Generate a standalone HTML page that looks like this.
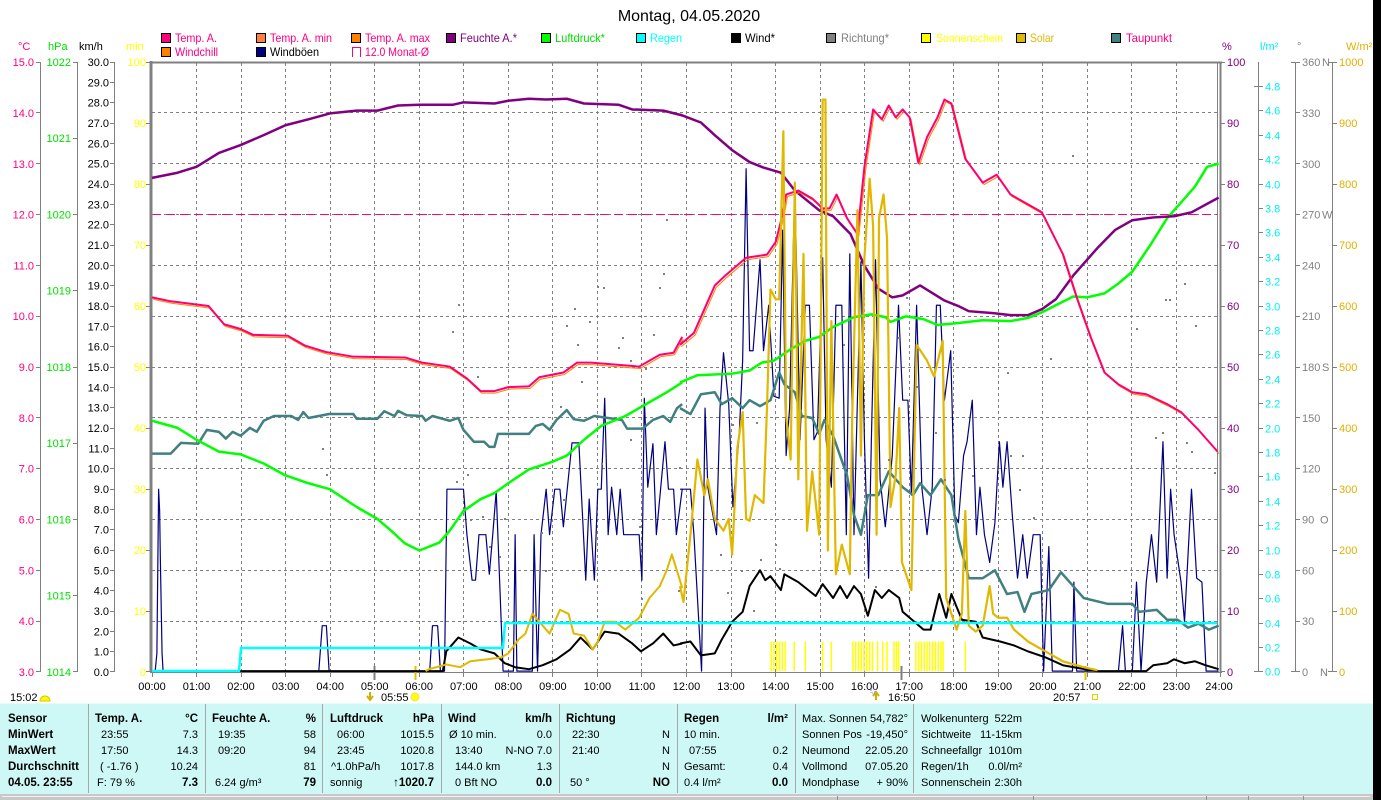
<!DOCTYPE html>
<html><head><meta charset="utf-8"><style>body{margin:0;background:#fff}svg{display:block}</style></head><body>
<svg width="1381" height="800" viewBox="0 0 1381 800" xmlns="http://www.w3.org/2000/svg" xmlns:xlink="http://www.w3.org/1999/xlink" font-family="'Liberation Sans', Arial, sans-serif" font-size="11">
<rect width="1381" height="800" fill="#fff"/>
<defs>
<polyline id="t8" fill="none" vector-effect="non-scaling-stroke" points="6,600 60,610 170,622 215,668 263,680 300,695 400,697 450,722 510,738 590,750 740,752 790,765 870,775 920,805 960,837 1000,837 1040,827 1100,825 1130,802 1200,790 1240,765 1280,765 1420,775 1480,745 1520,740 1545,700"/>
<polyline id="t9" fill="none" vector-effect="non-scaling-stroke" points="0,720 40,690 70,630 100,570 130,545 150,530 190,500 250,492 275,460 295,390 305,340 340,330 380,350 410,375 430,375 450,340 480,400 510,440 530,270 555,125 580,150 600,115 620,145 640,125 660,145 685,260 710,195 740,145 760,100 780,110 820,250 870,310 910,290 950,340 1000,365 1040,385 1060,420 1100,490 1140,600 1180,700 1220,790 1260,820 1300,840 1340,845 1400,870 1440,890 1490,935 1545,990"/>
</defs>

<!-- Title -->
<text x="689" y="21" font-size="16" text-anchor="middle" fill="#000">Montag, 04.05.2020</text>

<!-- Legend -->
<g stroke="#000" stroke-width="1">
<rect x="161.5" y="33.5" width="9" height="9" fill="#ff0080"/>
<rect x="256.5" y="33.5" width="9" height="9" fill="#ff8040"/>
<rect x="351.5" y="33.5" width="9" height="9" fill="#ff8000"/>
<rect x="446.5" y="33.5" width="9" height="9" fill="#800080"/>
<rect x="541.5" y="33.5" width="9" height="9" fill="#00ff00"/>
<rect x="636.5" y="33.5" width="9" height="9" fill="#00ffff"/>
<rect x="731.5" y="33.5" width="9" height="9" fill="#000"/>
<rect x="826.5" y="33.5" width="9" height="9" fill="#808080"/>
<rect x="921.5" y="33.5" width="9" height="9" fill="#ffff00"/>
<rect x="1016.5" y="33.5" width="9" height="9" fill="#e0b800"/>
<rect x="1111.5" y="33.5" width="9" height="9" fill="#408080"/>
<rect x="161.5" y="47.5" width="9" height="9" fill="#ff8000"/>
<rect x="256.5" y="47.5" width="9" height="9" fill="#000080"/>
</g>
<path d="M352.5,57 V47.5 H360.5 V57" fill="none" stroke="#ff0080"/>
<g font-size="12">
<text x="175" y="42" fill="#ff0080" textLength="42" lengthAdjust="spacingAndGlyphs">Temp. A.</text>
<text x="270" y="42" fill="#ff0080" textLength="62" lengthAdjust="spacingAndGlyphs">Temp. A. min</text>
<text x="365" y="42" fill="#ff0080" textLength="65" lengthAdjust="spacingAndGlyphs">Temp. A. max</text>
<text x="460" y="42" fill="#800080" textLength="57" lengthAdjust="spacingAndGlyphs">Feuchte A.*</text>
<text x="555" y="42" fill="#00e000" textLength="50" lengthAdjust="spacingAndGlyphs">Luftdruck*</text>
<text x="650" y="42" fill="#00ffff" textLength="32" lengthAdjust="spacingAndGlyphs">Regen</text>
<text x="745" y="42" fill="#000" textLength="30" lengthAdjust="spacingAndGlyphs">Wind*</text>
<text x="841" y="42" fill="#808080" textLength="48" lengthAdjust="spacingAndGlyphs">Richtung*</text>
<text x="936" y="42" fill="#ffff00" textLength="67" lengthAdjust="spacingAndGlyphs">Sonnenschein</text>
<text x="1030" y="42" fill="#e0b800" textLength="24" lengthAdjust="spacingAndGlyphs">Solar</text>
<text x="1126" y="42" fill="#ff0080" textLength="46" lengthAdjust="spacingAndGlyphs">Taupunkt</text>
<text x="175" y="56" fill="#ff0080" textLength="43" lengthAdjust="spacingAndGlyphs">Windchill</text>
<text x="270" y="56" fill="#000" textLength="49" lengthAdjust="spacingAndGlyphs">Windböen</text>
<text x="365" y="56" fill="#ff0080" textLength="64" lengthAdjust="spacingAndGlyphs">12.0 Monat-Ø</text>
</g>

<!-- unit labels -->
<text x="18" y="50" fill="#ff0080">°C</text>
<text x="48" y="50" fill="#00e000">hPa</text>
<text x="79" y="50" fill="#000">km/h</text>
<text x="126" y="50" fill="#ffff00">min</text>
<text x="1222" y="50" fill="#800080">%</text>
<text x="1260" y="50" fill="#00f0f0">l/m²</text>
<text x="1297" y="50" fill="#808080">°</text>
<text x="1346" y="50" fill="#e0b000">W/m²</text>

<!-- Grid -->
<path d="M152,112.5H1217M152,163.5H1217M152,265.5H1217M152,316.5H1217M152,367.5H1217M152,417.5H1217M152,468.5H1217M152,519.5H1217M152,570.5H1217M152,621.5H1217M152,214.5H1217" stroke="#808080" stroke-width="1" stroke-dasharray="3,3" fill="none"/>
<path d="M196.5,63V672M241.5,63V672M285.5,63V672M330.5,63V672M374.5,63V672M419.5,63V672M463.5,63V672M508.5,63V672M552.5,63V672M597.5,63V672M641.5,63V672M686.5,63V672M731.5,63V672M775.5,63V672M820.5,63V672M864.5,63V672M909.5,63V672M953.5,63V672M998.5,63V672M1042.5,63V672M1087.5,63V672M1131.5,63V672M1176.5,63V672" stroke="#808080" stroke-width="1" stroke-dasharray="3,3" fill="none"/>
<!-- Monat-Ø line -->
<path d="M152,214.5H1217" stroke="#ff0080" stroke-width="1" stroke-dasharray="9,5"/>

<!-- Frame -->
<path d="M151,61V672" stroke="#808080" stroke-width="3"/>
<path d="M150,62.5H1222" stroke="#808080" stroke-width="2"/>
<path d="M1217.5,62V672" stroke="#808080" stroke-width="1"/>
<path d="M1220.5,62V672" stroke="#808080" stroke-width="2"/>
<path d="M150,672.5H1222" stroke="#808080" stroke-width="1"/>
<path d="M152.5,672V677M196.5,672V677M241.5,672V677M285.5,672V677M330.5,672V677M374.5,672V677M419.5,672V677M463.5,672V677M508.5,672V677M552.5,672V677M597.5,672V677M641.5,672V677M686.5,672V677M731.5,672V677M775.5,672V677M820.5,672V677M864.5,672V677M909.5,672V677M953.5,672V677M998.5,672V677M1042.5,672V677M1087.5,672V677M1131.5,672V677M1176.5,672V677M1220.5,672V677" stroke="#808080"/>
<path d="M374.5,666V680M901.5,666V680" stroke="#808080" stroke-width="2"/>
<path d="M415.5,666V680M1085.5,666V680" stroke="#e0c000" stroke-width="2"/>

<!-- Left axes -->
<g stroke="#808080" fill="none" stroke-width="1">
<path d="M40.5,62V672M36,62.5H41M36,112.5H41M36,163.5H41M36,214.5H41M36,265.5H41M36,316.5H41M36,367.5H41M36,417.5H41M36,468.5H41M36,519.5H41M36,570.5H41M36,621.5H41M36,671.5H41"/>
<path d="M77.5,62V672M73,62.5H78M73,138.5H78M73,214.5H78M73,290.5H78M73,367.5H78M73,443.5H78M73,519.5H78M73,595.5H78M73,671.5H78"/>
<path d="M114.5,62V672M110,62.5H115M110,82.5H115M110,102.5H115M110,123.5H115M110,143.5H115M110,163.5H115M110,184.5H115M110,204.5H115M110,224.5H115M110,245.5H115M110,265.5H115M110,285.5H115M110,306.5H115M110,326.5H115M110,346.5H115M110,367.5H115M110,387.5H115M110,407.5H115M110,428.5H115M110,448.5H115M110,468.5H115M110,489.5H115M110,509.5H115M110,529.5H115M110,550.5H115M110,570.5H115M110,590.5H115M110,611.5H115M110,631.5H115M110,651.5H115M110,671.5H115"/>
<path d="M146,62.5H150M146,123.5H150M146,184.5H150M146,245.5H150M146,306.5H150M146,367.5H150M146,428.5H150M146,489.5H150M146,550.5H150M146,611.5H150M146,671.5H150"/>
<!-- right axes -->
<path d="M1221,62.5H1225M1221,123.5H1225M1221,184.5H1225M1221,245.5H1225M1221,306.5H1225M1221,367.5H1225M1221,428.5H1225M1221,489.5H1225M1221,550.5H1225M1221,611.5H1225M1221,671.5H1225"/>
<path d="M1258.5,62V672M1254,86.5H1263M1258.5,110.5H1263M1258.5,135.5H1263M1258.5,159.5H1263M1258.5,184.5H1263M1258.5,208.5H1263M1258.5,232.5H1263M1258.5,257.5H1263M1258.5,281.5H1263M1258.5,306.5H1263M1258.5,330.5H1263M1258.5,354.5H1263M1258.5,379.5H1263M1258.5,403.5H1263M1258.5,428.5H1263M1258.5,452.5H1263M1258.5,476.5H1263M1258.5,501.5H1263M1258.5,525.5H1263M1258.5,550.5H1263M1258.5,574.5H1263M1258.5,598.5H1263M1258.5,623.5H1263M1258.5,647.5H1263M1254,671.5H1263"/>
<path d="M1295.5,62V672M1291,62.5H1300M1295.5,112.5H1300M1295.5,163.5H1300M1295.5,214.5H1300M1295.5,265.5H1300M1295.5,316.5H1300M1295.5,367.5H1300M1295.5,417.5H1300M1295.5,468.5H1300M1295.5,519.5H1300M1295.5,570.5H1300M1295.5,621.5H1300M1291,671.5H1300"/>
<path d="M1332.5,62V672M1328,62.5H1337M1332.5,123.5H1337M1332.5,184.5H1337M1332.5,245.5H1337M1332.5,306.5H1337M1332.5,367.5H1337M1332.5,428.5H1337M1332.5,489.5H1337M1332.5,550.5H1337M1332.5,611.5H1337M1328,671.5H1337"/>
</g>

<g fill="#ff0080" text-anchor="end">
<text x="34" y="66">15.0</text><text x="34" y="117">14.0</text><text x="34" y="168">13.0</text><text x="34" y="218.5">12.0</text><text x="34" y="269.5">11.0</text><text x="34" y="320">10.0</text><text x="34" y="371">9.0</text><text x="34" y="422">8.0</text><text x="34" y="472.5">7.0</text><text x="34" y="523.5">6.0</text><text x="34" y="574.5">5.0</text><text x="34" y="625">4.0</text><text x="34" y="676">3.0</text>
</g>
<g fill="#00e000" text-anchor="end">
<text x="71" y="66">1022</text><text x="71" y="142">1021</text><text x="71" y="218.5">1020</text><text x="71" y="294.5">1019</text><text x="71" y="371">1018</text><text x="71" y="447">1017</text><text x="71" y="523.5">1016</text><text x="71" y="599.5">1015</text><text x="71" y="676">1014</text>
</g>
<g fill="#000" text-anchor="end">
<text x="109" y="66">30.0</text><text x="109" y="86.5">29.0</text><text x="109" y="106.5">28.0</text><text x="109" y="127">27.0</text><text x="109" y="147.5">26.0</text><text x="109" y="167.5">25.0</text><text x="109" y="188">24.0</text><text x="109" y="208.5">23.0</text><text x="109" y="228.5">22.0</text><text x="109" y="249">21.0</text><text x="109" y="269.5">20.0</text><text x="109" y="289.5">19.0</text><text x="109" y="310">18.0</text><text x="109" y="330.5">17.0</text><text x="109" y="350.5">16.0</text><text x="109" y="371">15.0</text><text x="109" y="391.5">14.0</text><text x="109" y="411.5">13.0</text><text x="109" y="432">12.0</text><text x="109" y="452.5">11.0</text><text x="109" y="472.5">10.0</text><text x="109" y="493">9.0</text><text x="109" y="513.5">8.0</text><text x="109" y="533.5">7.0</text><text x="109" y="554">6.0</text><text x="109" y="574.5">5.0</text><text x="109" y="594.5">4.0</text><text x="109" y="615">3.0</text><text x="109" y="635.5">2.0</text><text x="109" y="655.5">1.0</text><text x="109" y="676">0.0</text>
</g>
<g fill="#ffff00" text-anchor="end">
<text x="146" y="66">100</text><text x="146" y="127">90</text><text x="146" y="188">80</text><text x="146" y="249">70</text><text x="146" y="310">60</text><text x="146" y="371">50</text><text x="146" y="432">40</text><text x="146" y="493">30</text><text x="146" y="554">20</text><text x="146" y="615">10</text><text x="146" y="676">0</text>
</g>
<g fill="#800080">
<text x="1227" y="66">100</text><text x="1227" y="127">90</text><text x="1227" y="188">80</text><text x="1227" y="249">70</text><text x="1227" y="310">60</text><text x="1227" y="371">50</text><text x="1227" y="432">40</text><text x="1227" y="493">30</text><text x="1227" y="554">20</text><text x="1227" y="615">10</text><text x="1227" y="676">0</text>
</g>
<g fill="#00f0f0">
<text x="1265" y="90.5">4.8</text><text x="1265" y="114.5">4.6</text><text x="1265" y="139.5">4.4</text><text x="1265" y="163.5">4.2</text><text x="1265" y="188.5">4.0</text><text x="1265" y="212.5">3.8</text><text x="1265" y="236.5">3.6</text><text x="1265" y="261.5">3.4</text><text x="1265" y="285.5">3.2</text><text x="1265" y="310.5">3.0</text><text x="1265" y="334.5">2.8</text><text x="1265" y="358.5">2.6</text><text x="1265" y="383.5">2.4</text><text x="1265" y="407.5">2.2</text><text x="1265" y="432.5">2.0</text><text x="1265" y="456.5">1.8</text><text x="1265" y="480.5">1.6</text><text x="1265" y="505.5">1.4</text><text x="1265" y="529.5">1.2</text><text x="1265" y="554.5">1.0</text><text x="1265" y="578.5">0.8</text><text x="1265" y="602.5">0.6</text><text x="1265" y="627.5">0.4</text><text x="1265" y="651.5">0.2</text><text x="1265" y="675.5">0.0</text>
</g>
<g fill="#808080">
<text x="1302" y="66">360</text><text x="1302" y="117">330</text><text x="1302" y="168">300</text><text x="1302" y="218.5">270</text><text x="1302" y="269.5">240</text><text x="1302" y="320">210</text><text x="1302" y="371">180</text><text x="1302" y="422">150</text><text x="1302" y="472.5">120</text><text x="1302" y="523.5">90</text><text x="1302" y="574.5">60</text><text x="1302" y="625">30</text><text x="1302" y="676">0</text>
<text x="1322" y="66">N</text><text x="1322" y="218.5">W</text><text x="1322" y="371">S</text><text x="1320" y="523.5">O</text><text x="1320" y="676">N</text>
</g>
<g fill="#e0b000">
<text x="1339" y="66">1000</text><text x="1339" y="127">900</text><text x="1339" y="188">800</text><text x="1339" y="249">700</text><text x="1339" y="310">600</text><text x="1339" y="371">500</text><text x="1339" y="432">400</text><text x="1339" y="493">300</text><text x="1339" y="554">200</text><text x="1339" y="615">100</text><text x="1339" y="676">0</text>
</g>

<!-- X labels -->
<g fill="#000" text-anchor="middle">
<text x="152" y="690">00:00</text><text x="196.5" y="690">01:00</text><text x="241" y="690">02:00</text><text x="285.6" y="690">03:00</text><text x="330.2" y="690">04:00</text><text x="374.7" y="690">05:00</text><text x="419.2" y="690">06:00</text><text x="463.8" y="690">07:00</text><text x="508.3" y="690">08:00</text><text x="552.9" y="690">09:00</text><text x="597.4" y="690">10:00</text><text x="641.9" y="690">11:00</text><text x="686.5" y="690">12:00</text><text x="731" y="690">13:00</text><text x="775.6" y="690">14:00</text><text x="820.1" y="690">15:00</text><text x="864.6" y="690">16:00</text><text x="909.2" y="690">17:00</text><text x="953.7" y="690">18:00</text><text x="998.3" y="690">19:00</text><text x="1042.8" y="690">20:00</text><text x="1087.3" y="690">21:00</text><text x="1131.9" y="690">22:00</text><text x="1176.4" y="690">23:00</text><text x="1219" y="690">24:00</text>
</g>

<!-- Sun info row -->
<text x="10" y="701" fill="#000">15:02</text>
<path d="M40,701 A5,5 0 0 1 50,701 Z" fill="#ffff00" stroke="#e0c000"/>
<path d="M370,692 V699 M367,696 L370,700 L373,696" stroke="#d0b000" stroke-width="2" fill="none"/>
<text x="381" y="701" fill="#000">05:55</text>
<circle cx="415" cy="697" r="4" fill="#ffff00" stroke="#f0e060"/>
<path d="M876,700 V693 M873,696 L876,692 L879,696" stroke="#d0b000" stroke-width="2" fill="none"/>
<rect x="871" y="689" width="4" height="4" fill="none" stroke="#8080ff" stroke-dasharray="1,1"/>
<text x="888" y="701" fill="#000">16:50</text>
<text x="1053" y="701" fill="#000">20:57</text>
<rect x="1092.5" y="694.5" width="5" height="5" fill="none" stroke="#e0d000"/>

<!-- SERIES (zoom 8 coordinates) -->
<g transform="translate(150,60) scale(0.34447,0.39557)" fill="none" stroke-linejoin="round">
<polyline vector-effect="non-scaling-stroke" stroke="#000080" stroke-width="1.2" points="6,1545 15,1545 20,1500 25,1085 28,1140 30,1260 35,1500 38,1545 490,1545 500,1430 512,1430 520,1545 812,1545 820,1430 835,1430 843,1545 855,1545 862,1085 910,1085 920,1200 935,1315 945,1315 955,1200 975,1200 985,1300 995,1200 1005,1090 1025,1545 1055,1545 1060,1200 1065,1545 1110,1545 1115,1200 1125,1545 1135,1200 1150,1085 1160,1200 1175,1085 1190,1085 1200,1180 1225,968 1245,968 1265,1315 1275,1110 1290,1315 1300,1085 1310,1085 1320,855 1330,1200 1340,1080 1355,1200 1365,1085 1375,1200 1420,1200 1428,1315 1435,855 1445,1080 1460,970 1470,1200 1495,965 1505,1085 1520,1085 1528,1200 1545,1085"/>
<polyline vector-effect="non-scaling-stroke" stroke="#000" stroke-width="2" points="6,1545 850,1545 860,1495 895,1460 930,1475 960,1490 1000,1500 1030,1525 1060,1535 1100,1540 1140,1530 1180,1515 1220,1490 1250,1460 1285,1490 1320,1445 1360,1450 1400,1475 1425,1495 1460,1475 1490,1450 1520,1480 1545,1475"/>
<polyline vector-effect="non-scaling-stroke" stroke="#408080" stroke-width="2.5" points="6,995 60,995 90,968 140,970 165,935 200,940 220,957 240,940 263,950 290,930 310,940 330,912 360,900 410,900 430,910 445,890 460,905 520,895 590,895 600,907 660,907 680,888 710,900 720,887 745,898 790,900 800,912 820,900 870,912 895,905 910,935 940,965 970,965 985,978 1000,978 1010,945 1100,945 1120,925 1140,920 1160,935 1180,910 1210,885 1230,908 1260,912 1290,900 1370,910 1385,932 1430,932 1460,910 1490,900 1510,915 1530,880 1545,870"/>
<polyline vector-effect="non-scaling-stroke" stroke="#00ff00" stroke-width="2.5" points="6,912 80,930 135,960 200,990 263,997 330,1020 393,1050 460,1070 522,1085 600,1130 660,1160 700,1190 740,1222 782,1240 840,1220 870,1190 910,1140 960,1110 1000,1095 1040,1070 1100,1035 1170,1015 1210,1000 1260,960 1310,925 1380,900 1440,870 1500,840 1545,815"/>
<polyline vector-effect="non-scaling-stroke" stroke="#800080" stroke-width="2.5" points="6,298 80,285 135,270 200,235 263,215 330,190 393,165 460,150 522,135 600,128 660,128 720,115 782,113 880,113 910,107 1000,110 1040,103 1100,98 1150,100 1210,98 1260,110 1360,113 1400,125 1490,128 1545,140"/>
<use xlink:href="#t8" href="#t8" stroke="#ff8000" stroke-width="1" transform="translate(3,5)"/>
<use xlink:href="#t8" href="#t8" stroke="#ff0070" stroke-width="2"/>
<polyline vector-effect="non-scaling-stroke" stroke="#e0b800" stroke-width="2" points="800,1545 810,1540 860,1528 900,1535 930,1520 980,1515 1020,1510 1040,1500 1070,1465 1090,1450 1110,1400 1130,1420 1160,1450 1190,1390 1215,1400 1230,1450 1260,1455 1285,1490 1300,1470 1320,1420 1350,1420 1380,1440 1420,1410 1450,1360 1480,1330 1500,1290 1515,1250 1540,1320 1545,1335"/>
</g>

<!-- SERIES (zoom 9 coordinates) -->
<g transform="translate(680,60) scale(0.34795,0.39557)" fill="none" stroke-linejoin="round">
<polyline vector-effect="non-scaling-stroke" stroke="#000080" stroke-width="1.2" points="0,1085 30,1085 40,1200 62,1545 72,880 80,1080 105,1200 115,880 125,740 140,870 152,1130 170,950 180,760 190,275 200,735 210,735 230,505 240,735 255,620 270,850 285,855 295,430 305,1000 315,880 330,310 345,960 360,620 372,620 385,960 395,940 410,500 420,960 435,1080 448,620 465,620 478,1200 488,490 500,1200 520,510 530,960 542,1310 550,960 562,505 575,1060 590,1180 610,1000 628,620 640,860 655,860 665,1100 680,620 695,1080 710,1200 725,1080 737,620 748,620 760,860 778,735 790,1150 800,1170 815,1000 825,965 840,860 852,1200 862,1080 875,1200 890,1270 905,1170 918,965 928,1080 940,965 955,1150 970,1310 985,1200 998,1310 1015,1200 1035,1200 1045,1545 1060,1230 1070,1545 1128,1545 1132,1320 1140,1545 1260,1545 1272,1430 1280,1545 1300,1545 1312,1320 1325,1545 1340,1320 1355,1200 1370,1320 1388,965 1400,1310 1410,1085 1420,1200 1440,1320 1450,1420 1470,1085 1485,1310 1500,1320 1512,1545 1548,1545"/>
<polyline vector-effect="non-scaling-stroke" stroke="#000" stroke-width="2" points="0,1475 30,1470 60,1505 100,1500 120,1465 150,1420 180,1395 200,1330 230,1290 245,1315 260,1305 290,1340 300,1300 340,1320 390,1355 410,1325 440,1360 460,1330 480,1360 500,1330 520,1350 540,1405 560,1340 580,1360 600,1340 630,1360 640,1395 660,1410 700,1440 720,1440 745,1350 765,1410 780,1350 810,1415 850,1420 870,1460 920,1470 960,1480 1000,1495 1050,1510 1100,1530 1150,1538 1200,1545 1340,1545 1360,1530 1400,1525 1420,1515 1450,1525 1480,1520 1510,1530 1548,1540"/>
<polyline vector-effect="non-scaling-stroke" stroke="#408080" stroke-width="2.5" points="0,880 30,895 60,845 100,840 120,870 150,855 180,880 200,860 230,875 260,860 285,790 300,820 330,840 350,900 380,905 400,945 415,910 440,950 460,1000 480,1050 500,1150 520,1200 540,1100 570,1100 600,1040 640,1080 670,1100 690,1070 720,1100 750,1060 780,1100 800,1210 830,1310 870,1310 905,1290 940,1350 970,1345 990,1395 1010,1350 1060,1340 1095,1295 1130,1330 1160,1360 1230,1375 1300,1375 1320,1395 1370,1390 1400,1415 1430,1415 1460,1435 1490,1425 1520,1440 1548,1430"/>
<polyline vector-effect="non-scaling-stroke" stroke="#00ff00" stroke-width="2.5" points="0,815 50,797 150,793 200,785 235,765 270,760 320,730 360,710 400,700 440,675 500,650 550,643 590,650 605,662 650,648 700,655 740,670 800,665 870,658 950,660 1000,652 1040,638 1080,620 1130,598 1170,600 1220,590 1260,565 1300,535 1350,470 1400,400 1440,360 1480,320 1515,270 1548,262"/>
<polyline vector-effect="non-scaling-stroke" stroke="#800080" stroke-width="2.5" points="0,138 60,158 100,190 150,228 200,258 240,272 290,285 330,330 400,380 440,395 490,440 530,520 570,578 610,600 640,595 690,570 760,608 800,622 830,635 900,640 950,645 1000,645 1040,630 1080,605 1130,545 1200,475 1250,430 1300,405 1360,398 1420,395 1470,385 1548,348"/>
<use xlink:href="#t9" href="#t9" stroke="#ff8000" stroke-width="1" transform="translate(4,5)"/>
<use xlink:href="#t9" href="#t9" stroke="#ff0070" stroke-width="2"/>
<polyline vector-effect="non-scaling-stroke" stroke="#e0b800" stroke-width="2.2" points="0,1330 10,1370 30,1200 50,1010 70,1100 80,1060 100,1160 125,1190 140,1160 150,1250 165,980 180,890 190,1160 200,1165 215,1100 240,1120 250,880 260,580 275,605 285,605 297,180 305,900 318,1010 330,310 340,1060 355,490 365,1190 380,1040 400,1200 410,100 418,100 425,1240 435,660 448,1300 465,1225 488,1300 495,900 510,380 520,1000 530,500 545,300 555,420 565,1200 572,400 585,340 595,450 605,1130 620,1050 630,880 638,1270 665,1340 680,720 710,760 730,800 755,710 765,1360 780,1400 795,1440 810,1400 820,1140 830,1430 850,1445 870,1430 890,1330 900,1400 915,1410 940,1410 960,1440 1000,1470 1040,1490 1060,1500 1100,1520 1160,1535 1200,1543"/>
<path vector-effect="non-scaling-stroke" stroke="#ffff00" stroke-width="1.5" d="M262,1470V1545M270,1470V1545M278,1470V1545M286,1470V1545M294,1470V1545M302,1470V1545M328,1470V1545M360,1470V1545M410,1470V1545M435,1470V1545M497,1470V1545M505,1470V1545M513,1470V1545M521,1470V1545M529,1470V1545M537,1470V1545M545,1470V1545M553,1470V1545M568,1470V1545M583,1470V1545M595,1470V1545M615,1470V1545M622,1470V1545M628,1470V1545M678,1470V1545M686,1470V1545M694,1470V1545M702,1470V1545M710,1470V1545M718,1470V1545M726,1470V1545M734,1470V1545M742,1470V1545M750,1470V1545M756,1470V1545M820,1470V1545"/>
</g>

<!-- Rain -->
<polyline fill="none" stroke="#00ffff" stroke-width="2.5" points="152,671 239,671 241,648 503,648 505,623 1217,623"/>

<!-- Direction dots -->
<g fill="#808080">
<rect x="666" y="219" width="2" height="2"/><rect x="663" y="273" width="2" height="2"/><rect x="659" y="287" width="2" height="2"/><rect x="597" y="286" width="2" height="2"/><rect x="603" y="287" width="2" height="2"/><rect x="574" y="308" width="2" height="2"/><rect x="566" y="325" width="2" height="2"/><rect x="589" y="321" width="2" height="2"/><rect x="622" y="337" width="2" height="2"/><rect x="618" y="347" width="2" height="2"/><rect x="653" y="334" width="2" height="2"/><rect x="577" y="344" width="2" height="2"/><rect x="645" y="368" width="2" height="2"/><rect x="630" y="360" width="2" height="2"/><rect x="581" y="381" width="2" height="2"/><rect x="458" y="304" width="2" height="2"/><rect x="452" y="331" width="2" height="2"/><rect x="477" y="376" width="2" height="2"/><rect x="322" y="448" width="2" height="2"/><rect x="326" y="474" width="2" height="2"/><rect x="456" y="481" width="2" height="2"/><rect x="467" y="474" width="2" height="2"/><rect x="470" y="519" width="2" height="2"/><rect x="482" y="516" width="2" height="2"/><rect x="489" y="546" width="2" height="2"/><rect x="499" y="556" width="2" height="2"/><rect x="504" y="518" width="2" height="2"/><rect x="541" y="532" width="2" height="2"/><rect x="545" y="570" width="2" height="2"/><rect x="560" y="406" width="2" height="2"/><rect x="630" y="439" width="2" height="2"/><rect x="639" y="526" width="2" height="2"/><rect x="679" y="467" width="2" height="2"/><rect x="641" y="598" width="2" height="2"/><rect x="678" y="590" width="2" height="2"/><rect x="563" y="499" width="2" height="2"/><rect x="601" y="463" width="2" height="2"/>
<rect x="1072" y="155" width="2" height="2"/><rect x="1184" y="283" width="2" height="2"/><rect x="1165" y="299" width="2" height="2"/><rect x="1169" y="299" width="2" height="2"/><rect x="1195" y="325" width="2" height="2"/><rect x="1136" y="328" width="2" height="2"/><rect x="1050" y="358" width="2" height="2"/><rect x="1007" y="372" width="2" height="2"/><rect x="1162" y="432" width="2" height="2"/><rect x="1155" y="437" width="2" height="2"/><rect x="1186" y="442" width="2" height="2"/><rect x="1191" y="451" width="2" height="2"/><rect x="1022" y="455" width="2" height="2"/><rect x="1010" y="455" width="2" height="2"/><rect x="1019" y="489" width="2" height="2"/><rect x="1033" y="517" width="2" height="2"/><rect x="1040" y="560" width="2" height="2"/><rect x="1214" y="472" width="2" height="2"/><rect x="972" y="475" width="2" height="2"/><rect x="775" y="544" width="2" height="2"/><rect x="760" y="559" width="2" height="2"/><rect x="720" y="554" width="2" height="2"/><rect x="741" y="570" width="2" height="2"/><rect x="727" y="592" width="2" height="2"/><rect x="753" y="610" width="2" height="2"/><rect x="898" y="337" width="2" height="2"/><rect x="843" y="344" width="2" height="2"/><rect x="906" y="297" width="2" height="2"/><rect x="888" y="459" width="2" height="2"/><rect x="875" y="586" width="2" height="2"/><rect x="779" y="568" width="2" height="2"/><rect x="944" y="479" width="2" height="2"/><rect x="916" y="386" width="2" height="2"/><rect x="935" y="432" width="2" height="2"/><rect x="732" y="424" width="2" height="2"/><rect x="756" y="422" width="2" height="2"/>
</g>

<!-- Table -->
<rect x="0" y="703.5" width="1373" height="90.5" fill="#cdf8f5"/>
<path d="M88.5,704V793M205.5,704V793M322.5,704V793M441.5,704V793M559.5,704V793M677.5,704V793M795.5,704V793M913.5,704V793" stroke="#a8a8a8"/>
<rect x="0" y="794" width="1373" height="6" fill="#c8c8c8"/>
<path d="M2,796.5H1370" stroke="#f0f0f0"/>
<path d="M837.5,796V800M1033.5,796V800M1206.5,796V800M1248.5,796V800M1303.5,796V800" stroke="#909090"/>

<g font-size="11.5" fill="#000">
<g font-weight="bold">
<text x="8" y="722">Sensor</text><text x="8" y="738">MinWert</text><text x="8" y="754">MaxWert</text><text x="8" y="770">Durchschnitt</text><text x="8" y="786">04.05. 23:55</text>
<text x="95" y="722">Temp. A.</text><text x="198" y="722" text-anchor="end">°C</text><text x="198" y="786" text-anchor="end">7.3</text>
<text x="212" y="722">Feuchte A.</text><text x="316" y="722" text-anchor="end">%</text><text x="316" y="786" text-anchor="end">79</text>
<text x="330" y="722">Luftdruck</text><text x="434" y="722" text-anchor="end">hPa</text><text x="434" y="786" text-anchor="end">↑1020.7</text>
<text x="448" y="722">Wind</text><text x="552" y="722" text-anchor="end">km/h</text><text x="552" y="786" text-anchor="end">0.0</text>
<text x="566" y="722">Richtung</text><text x="670" y="786" text-anchor="end">NO</text>
<text x="684" y="722">Regen</text><text x="788" y="722" text-anchor="end">l/m²</text><text x="788" y="786" text-anchor="end">0.0</text>
</g>
<g font-size="11">
<text x="101" y="738">23:55</text><text x="198" y="738" text-anchor="end">7.3</text>
<text x="101" y="754">17:50</text><text x="198" y="754" text-anchor="end">14.3</text>
<text x="100" y="770">( -1.76 )</text><text x="198" y="770" text-anchor="end">10.24</text>
<text x="97" y="786">F: 79 %</text>
<text x="218" y="738">19:35</text><text x="316" y="738" text-anchor="end">58</text>
<text x="218" y="754">09:20</text><text x="316" y="754" text-anchor="end">94</text>
<text x="316" y="770" text-anchor="end">81</text>
<text x="215" y="786">6.24 g/m³</text>
<text x="337" y="738">06:00</text><text x="434" y="738" text-anchor="end">1015.5</text>
<text x="337" y="754">23:45</text><text x="434" y="754" text-anchor="end">1020.8</text>
<text x="331" y="770">^1.0hPa/h</text><text x="434" y="770" text-anchor="end">1017.8</text>
<text x="330" y="786">sonnig</text>
<text x="449" y="738">Ø 10 min.</text><text x="552" y="738" text-anchor="end">0.0</text>
<text x="455" y="754">13:40</text><text x="552" y="754" text-anchor="end">N-NO 7.0</text>
<text x="455" y="770">144.0 km</text><text x="552" y="770" text-anchor="end">1.3</text>
<text x="455" y="786">0 Bft NO</text>
<text x="572" y="738">22:30</text><text x="670" y="738" text-anchor="end">N</text>
<text x="572" y="754">21:40</text><text x="670" y="754" text-anchor="end">N</text>
<text x="670" y="770" text-anchor="end">N</text>
<text x="570" y="786">50 °</text>
<text x="684" y="738">10 min.</text>
<text x="689" y="754">07:55</text><text x="788" y="754" text-anchor="end">0.2</text>
<text x="684" y="770">Gesamt:</text><text x="788" y="770" text-anchor="end">0.4</text>
<text x="684" y="786">0.4 l/m²</text>
<text x="802" y="722">Max. Sonnen</text><text x="908" y="722" text-anchor="end">54,782°</text>
<text x="802" y="738">Sonnen Pos</text><text x="908" y="738" text-anchor="end">-19,450°</text>
<text x="802" y="754">Neumond</text><text x="908" y="754" text-anchor="end">22.05.20</text>
<text x="802" y="770">Vollmond</text><text x="908" y="770" text-anchor="end">07.05.20</text>
<text x="802" y="786">Mondphase</text><text x="908" y="786" text-anchor="end">+ 90%</text>
<text x="921" y="722">Wolkenunterg</text><text x="1022" y="722" text-anchor="end">522m</text>
<text x="921" y="738">Sichtweite</text><text x="1022" y="738" text-anchor="end">11-15km</text>
<text x="921" y="754">Schneefallgr</text><text x="1022" y="754" text-anchor="end">1010m</text>
<text x="921" y="770">Regen/1h</text><text x="1022" y="770" text-anchor="end">0.0l/m²</text>
<text x="921" y="786">Sonnenschein</text><text x="1022" y="786" text-anchor="end">2:30h</text>
</g>
</g>

<!-- right black strip -->
<rect x="1373" y="0" width="8" height="800" fill="#000"/>
</svg>
</body></html>
